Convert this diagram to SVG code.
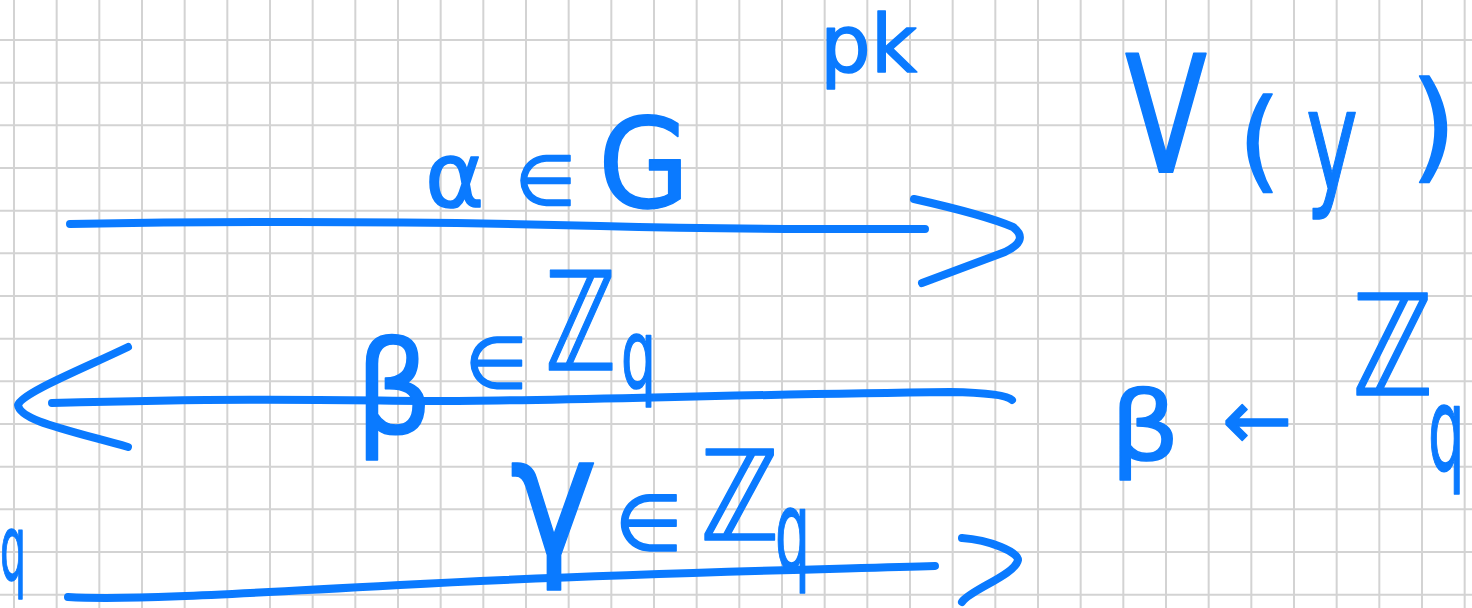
<svg xmlns="http://www.w3.org/2000/svg" width="1472" height="608" viewBox="0 0 1472 608">
<defs>
<style>
.grid{fill:none;stroke:#d3d3d3;stroke-width:2}
.ink{fill:none;stroke:#0a7aff;stroke-width:8;stroke-linecap:round;stroke-linejoin:round}
.t{fill:#0a7aff;stroke:#0a7aff;stroke-width:1.5;stroke-linejoin:round;font-family:"DejaVu Sans","Noto Sans",sans-serif}
</style>
</defs>
<rect width="1472" height="608" fill="#ffffff"/>
<path class="grid" d="M14,0V608 M56.67,0V608 M99.33,0V608 M142,0V608 M184.67,0V608 M227.33,0V608 M270,0V608 M312.67,0V608 M355.33,0V608 M398,0V608 M440.67,0V608 M483.33,0V608 M526,0V608 M568.67,0V608 M611.33,0V608 M654,0V608 M696.67,0V608 M739.33,0V608 M782,0V608 M824.67,0V608 M867.33,0V608 M910,0V608 M952.67,0V608 M995.33,0V608 M1038,0V608 M1080.67,0V608 M1123.33,0V608 M1166,0V608 M1208.67,0V608 M1251.33,0V608 M1294,0V608 M1336.67,0V608 M1379.33,0V608 M1422,0V608 M1464.67,0V608 M0,40H1472 M0,82.67H1472 M0,125.33H1472 M0,168H1472 M0,210.67H1472 M0,253.33H1472 M0,296H1472 M0,338.67H1472 M0,381.33H1472 M0,424H1472 M0,466.67H1472 M0,509.33H1472 M0,552H1472 M0,594.67H1472"/>
<g id="connectors">
<g id="arrow-alpha">
<path class="ink" d="M70,224 C300,220 450,222 600,226 S850,229 925,229"/>
<path class="ink" d="M914,199 Q985,215 1013,227 Q1030,240 1005,252 L922,283"/>
</g>
<g id="arrow-beta">
<path class="ink" d="M52,403 C250,398 320,400 420,401 S700,395 950,392 Q1005,393 1012,400"/>
<path class="ink" d="M128,347 C80,370 22,393 18,405 C20,420 60,428 128,447"/>
</g>
<g id="arrow-gamma">
<path class="ink" d="M68,597 C120,600 200,596 400,585 S800,570 935,566"/>
<path class="ink" d="M962,538 C990,540 1018,552 1018,560 C1015,575 970,590 962,602"/>
</g>
</g>
<g id="label-pk">
<text class="t" x="820" y="72" font-size="80">pk</text>
</g>
<g id="label-alpha">
<text class="t" x="425" y="207" font-size="90">α</text>
<text class="t" x="515" y="205" font-size="70">∈</text>
<text class="t" x="598" y="207" font-size="125" textLength="92" lengthAdjust="spacingAndGlyphs">G</text>
</g>
<g id="label-vy">
<text class="t" transform="translate(1125,172) scale(1,1.3)" x="0" y="0" font-size="125" textLength="82" lengthAdjust="spacingAndGlyphs">V</text>
<text class="t" x="1238" y="178" font-size="110">(</text>
<text class="t" x="1306" y="190" font-size="140" textLength="52" lengthAdjust="spacingAndGlyphs">y</text>
<text class="t" x="1410" y="167" font-size="120">)</text>
</g>
<g id="label-beta-in">
<text class="t" x="355" y="433" font-size="128" textLength="78" lengthAdjust="spacingAndGlyphs">β</text>
<text class="t" x="465" y="388" font-size="72">∈</text>
<text class="t" transform="translate(545,370) scale(0.7,1)" font-size="137">ℤ</text>
<text class="t" transform="translate(621,387) scale(0.58,1)" font-size="95">q</text>
</g>
<g id="label-beta-sample">
<text class="t" x="1110" y="460" font-size="96" textLength="70" lengthAdjust="spacingAndGlyphs">β</text>
<text class="t" x="1222" y="449" font-size="84">←</text>
<text class="t" transform="translate(1352,395) scale(0.78,1)" font-size="140">ℤ</text>
<text class="t" transform="translate(1428,470) scale(0.5,1)" font-size="115">q</text>
</g>
<g id="label-gamma">
<text class="t" x="510" y="555" font-size="168" textLength="88" lengthAdjust="spacingAndGlyphs">γ</text>
<text class="t" x="615" y="550" font-size="78">∈</text>
<text class="t" transform="translate(700,540) scale(0.85,1)" font-size="125">ℤ</text>
<text class="t" transform="translate(775,570) scale(0.5,1)" font-size="110">q</text>
</g>
<g id="label-q-edge">
<text class="t" x="0" y="580" font-size="90" textLength="26" lengthAdjust="spacingAndGlyphs">q</text>
</g>
</svg>
